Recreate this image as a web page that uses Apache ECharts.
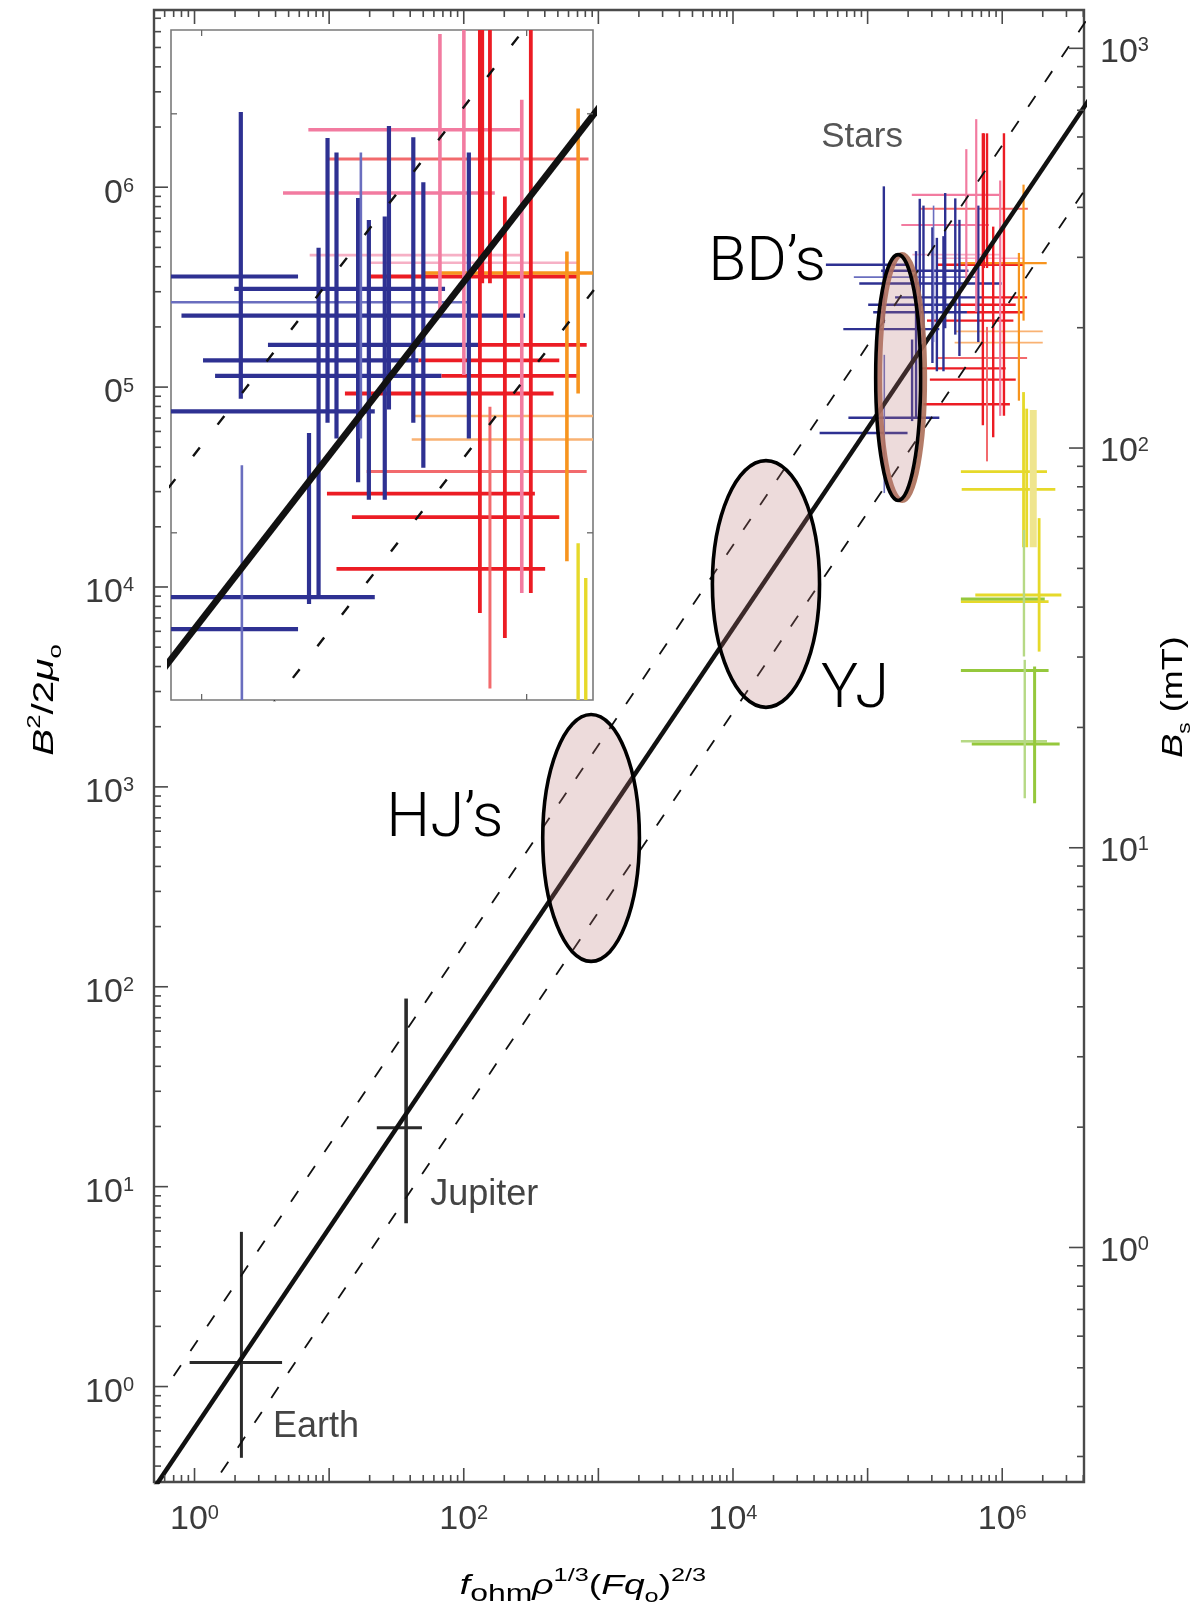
<!DOCTYPE html>
<html>
<head>
<meta charset="utf-8">
<script src="https://cdn.jsdelivr.net/npm/echarts@6/dist/echarts.min.js"></script>
<style>
  html, body { margin: 0; padding: 0; background: #fff; }
  #chart { width: 1198px; height: 1612px; }
</style>
</head>
<body>
<div id="chart"></div>
<script>
// ---------------------------------------------------------------------------
// Magnetic energy density B^2/2mu0 against the heat-flux scaling parameter
// f_ohm rho^(1/3) (F q0)^(2/3), with a magnified view of the stellar points.
// ---------------------------------------------------------------------------

// Axis ranges (main panel, right-hand B_s axis, magnified panel)
const X_RANGE = [0.5, 4.05e6];
const Y_RANGE = [0.333, 7.7e6];
const BS_RANGE = [0.259, 1247];
const INSET_X_RANGE = [8.05e4, 1.6e6];
const INSET_Y_RANGE = [3.99e4, 1.585e6];

// Tick labels: [value, mantissa text, exponent text]
const xTickLabels = [[1, '10', '0'], [1e2, '10', '2'], [1e4, '10', '4'], [1e6, '10', '6']];
const yTickLabels = [[1, '10', '0'], [10, '10', '1'], [1e2, '10', '2'], [1e3, '10', '3'],
                     [1e4, '10', '4'], [1e5, '0', '5'], [1e6, '0', '6']];
const bsTickLabels = [[1, '10', '0'], [10, '10', '1'], [1e2, '10', '2'], [1e3, '10', '3']];

// Best-fit scaling law and its scatter band: two end points each
const fitLine  = [[0.5, 0.31], [5e6, 3.1e6]];
const fitUpper = [[0.7, 1.13], [5e6, 8.1e6]];
const fitLower = [[0.5, 0.118], [5e6, 1.18e6]];

// Planets: [name, x, xLow, xHigh, y, yLow, yHigh]
const planets = [
  ['Earth',   2.23, 0.92, 4.47, 1.32, 0.44, 5.94],
  ['Jupiter', 37.3, 22.6, 48.9, 19.7, 6.56, 87.3]
];

// Stars, x-uncertainty bars: [y, xLow, xHigh, colour]
const starXErr = [
  [9.16e5, 2.13e5, 9.53e5, 'pink'],
  [7.80e5, 2.45e5, 1.55e6, 'salmon'],
  [6.47e5, 1.78e5, 7.98e5, 'pink'],
  [4.60e5, 2.15e5, 9.66e5, 'lightpink'],
  [4.41e5, 3.26e5, 1.44e6, 'lightpink'],
  [4.09e5, 4.9e4, 1.98e5, 'blue'],
  [4.09e5, 3.30e5, 1.43e6, 'red'],
  [4.17e5, 4.86e5, 2.14e6, 'orange'],
  [3.82e5, 1.26e5, 5.61e5, 'blue'],
  [3.55e5, 7.9e4, 6.61e5, 'lightblue'],
  [3.30e5, 8.67e4, 9.89e5, 'blue'],
  [2.81e5, 1.60e5, 7.18e5, 'blue'],
  [2.81e5, 7.18e5, 1.53e6, 'red'],
  [2.58e5, 1.01e5, 4.65e5, 'blue'],
  [2.58e5, 4.65e5, 1.26e6, 'red'],
  [2.37e5, 1.10e5, 5.47e5, 'blue'],
  [2.37e5, 5.47e5, 1.43e6, 'red'],
  [2.15e5, 2.76e5, 1.21e6, 'red'],
  [1.95e5, 6.6e4, 3.41e5, 'blue'],
  [1.90e5, 4.43e5, 2.0e6, 'lightorange'],
  [1.67e5, 4.43e5, 2.0e6, 'lightorange'],
  [1.40e5, 3.22e5, 1.53e6, 'salmon'],
  [1.24e5, 2.43e5, 1.06e6, 'red'],
  [1.09e5, 2.90e5, 1.26e6, 'red'],
  [8.20e4, 2.60e5, 1.14e6, 'red'],
  [7.02e4, 7.2e4, 3.41e5, 'blue'],
  [5.89e4, 4.4e4, 1.98e5, 'blue'],
  [3.78e4, 4.93e5, 2.15e6, 'yellow'],
  [3.08e4, 5.0e5, 2.48e6, 'yellow'],
  [9.12e3, 6.31e5, 2.75e6, 'yellow'],
  [8.45e3, 4.93e5, 2.21e6, 'yellow'],
  [8.71e3, 4.93e5, 2.07e6, 'green'],
  [3.82e3, 4.93e5, 2.21e6, 'green'],
  [1.69e3, 4.93e5, 2.15e6, 'lightgreen'],
  [1.64e3, 5.94e5, 2.67e6, 'green']
];

// Stars, y-uncertainty bars: [x, yLow, yHigh, colour]
const starYErr = [
  [1.32e5, 2.09e5, 1.01e6, 'blue'],
  [1.33e5, 2.95e4, 1.45e5, 'lightblue'],
  [2.29e5, 7.08e4, 4.79e5, 'blue'],
  [2.14e5, 6.76e4, 1.73e5, 'blue'],
  [2.44e5, 1.83e5, 8.75e5, 'blue'],
  [2.60e5, 1.68e5, 8.09e5, 'blue'],
  [3.03e5, 1.32e5, 6.30e5, 'blue'],
  [3.09e5, 1.68e5, 8.09e5, 'lightblue'],
  [3.27e5, 1.20e5, 5.58e5, 'blue'],
  [3.66e5, 1.20e5, 5.69e5, 'blue'],
  [3.77e5, 1.97e5, 9.35e5, 'blue'],
  [4.48e5, 1.83e5, 8.79e5, 'blue'],
  [4.81e5, 1.43e5, 6.87e5, 'blue'],
  [6.64e5, 1.68e5, 8.09e5, 'blue'],
  [5.41e5, 3.34e5, 1.55e6, 'pink'],
  [6.41e5, 2.38e5, 2.19e6, 'pink'],
  [9.66e5, 7.18e4, 1.08e6, 'pink'],
  [7.18e5, 6.44e4, 1.86e6, 'red'],
  [7.30e5, 3.94e5, 1.86e6, 'red'],
  [7.71e5, 4.25e4, 2.00e5, 'salmon'],
  [7.71e5, 3.94e5, 1.86e6, 'red'],
  [8.57e5, 5.61e4, 6.35e5, 'red'],
  [1.03e6, 7.18e4, 1.86e6, 'red'],
  [1.44e6, 2.15e5, 1.03e6, 'orange'],
  [1.33e6, 8.55e4, 4.69e5, 'orange'],
  [1.44e6, 1.58e4, 9.44e4, 'yellow'],
  [1.52e6, 1.58e4, 7.80e4, 'yellow'],
  [1.70e6, 1.58e4, 7.69e4, 'lightyellow'],
  [1.88e6, 4.75e3, 2.21e4, 'yellow'],
  [1.45e6, 4.49e3, 1.93e4, 'lightgreen'],
  [1.47e6, 877, 4.32e3, 'lightgreen'],
  [1.74e6, 828, 4.0e3, 'green']
];

// Object classes outlined on the scaling law: [key, xLow, xHigh, yLow, yHigh]
const regions = [
  ['HJ', 386, 2018, 134, 2301],
  ['YJ', 7030, 43950, 2500, 42850],
  ['BD', 1.148e5, 2.477e5, 2.71e4, 4.60e5]
];

// Text annotations: [text, x, y]
const planetLabels = [['Jupiter', 56.4, 9.1], ['Earth', 3.83, 0.63]];
const starLabel = [['Stars', 9.1e4, 1.77e6]];
const classLabels = [['BD\u2019s', 1.79e4, 4.1e5], ['YJ', 8.07e4, 3.0e3], ['HJ\u2019s', 72.3, 680]];

// Axis titles
const xTitle = '{i|f}{sub|ohm}{i|\u03c1}{sup|1/3}{n|(}{i|Fq}{sub2|o}{n|)}{sup|2/3}';
const yTitle = '{i|B}{sup|2}{n|/2}{i|\u03bc}{sub|o}';
const bsTitle = '{i|B}{sub|s}{n| (mT)}';

// ---------------------------------------------------------------------------
const FONT = '"Liberation Sans", Arial, Helvetica, sans-serif';
const LIGHT_FONT = 'Roboto, "Liberation Sans", sans-serif';
const AXIS_GREY = '#4a4a4a';
const TEXT_GREY = '#333';

const palette = {
  blue: '#2e3192', lightblue: '#6a6ebf',
  pink: '#f27ba0', lightpink: '#f6b0c5',
  salmon: '#f26a6d', red: '#ec1c24',
  orange: '#f7941e', lightorange: '#f9b273',
  yellow: '#e6d92a', lightyellow: '#efe58e',
  green: '#95c83c', lightgreen: '#b6d985'
};
const mainWidth = {
  blue: 2.4, lightblue: 1.6, pink: 2.2, lightpink: 1.6, salmon: 2, red: 2.4,
  orange: 2.2, lightorange: 1.8, yellow: 2.8, lightyellow: 7, green: 3, lightgreen: 2.4
};
const insetWidth = {
  blue: 4.2, lightblue: 2.6, pink: 3.6, lightpink: 2.6, salmon: 3, red: 3.8,
  orange: 3.6, lightorange: 2.6, yellow: 3.4, lightyellow: 5, green: 3.4, lightgreen: 2.6
};

function decadeTicks(range) {
  const out = [];
  const d0 = Math.floor(Math.log10(range[0])), d1 = Math.ceil(Math.log10(range[1]));
  for (let d = d0; d <= d1; d++) {
    for (let k = 1; k <= 9; k++) {
      const v = k * Math.pow(10, d);
      if (v >= range[0] * 0.9999 && v <= range[1] * 1.0001) out.push({ v: v, major: k === 1 });
    }
  }
  return out;
}

function seg(x1, y1, x2, y2, color, w) {
  return { type: 'line', shape: { x1: x1, y1: y1, x2: x2, y2: y2 },
           style: { stroke: color, lineWidth: w } };
}

function tickFormatter(table) {
  return function (v) {
    for (let i = 0; i < table.length; i++) {
      if (Math.abs(Math.log10(v) - Math.log10(table[i][0])) < 1e-6) {
        return '{b|' + table[i][1] + '}{s|' + table[i][2] + '}';
      }
    }
    return '';
  };
}

const tickRich = {
  b: { fontSize: 34, lineHeight: 34, fontFamily: FONT, color: '#3a3a3a', verticalAlign: 'bottom' },
  s: { fontSize: 20, lineHeight: 20, fontFamily: FONT, color: '#3a3a3a', verticalAlign: 'top' }
};

function titleRich(base, sub, sup, sub2) {
  return {
    i: { fontSize: base, fontStyle: 'italic', lineHeight: 40, fontFamily: FONT, color: TEXT_GREY },
    n: { fontSize: base, lineHeight: 40, fontFamily: FONT, color: TEXT_GREY },
    sub: { fontSize: sub, lineHeight: 22, verticalAlign: 'bottom', fontFamily: FONT, color: TEXT_GREY },
    sub2: { fontSize: sub2 || sub, lineHeight: 20, verticalAlign: 'bottom', fontFamily: FONT, color: TEXT_GREY },
    sup: { fontSize: sup, lineHeight: 20, verticalAlign: 'top', fontFamily: FONT, color: TEXT_GREY }
  };
}

const mainXTicks = decadeTicks(X_RANGE);
const mainYTicks = decadeTicks(Y_RANGE);
const bsTicks = decadeTicks(BS_RANGE);
const insetXTicks = decadeTicks(INSET_X_RANGE).filter(t => t.major);
const insetYTicks = decadeTicks(INSET_Y_RANGE).filter(t => t.major);

function xBarSeries(grid, widths, z) {
  return {
    type: 'custom', xAxisIndex: grid, yAxisIndex: grid === 0 ? 0 : 2,
    clip: true, silent: true, z: z,
    data: starXErr.map(b => [b[1], b[0], b[2]]),
    renderItem: function (params, api) {
      const b = starXErr[params.dataIndex];
      const p1 = api.coord([b[1], b[0]]);
      const p2 = api.coord([b[2], b[0]]);
      return seg(p1[0], p1[1], p2[0], p2[1], palette[b[3]], widths[b[3]]);
    }
  };
}
function yBarSeries(grid, widths, z) {
  return {
    type: 'custom', xAxisIndex: grid, yAxisIndex: grid === 0 ? 0 : 2,
    clip: true, silent: true, z: z,
    data: starYErr.map(b => [b[0], b[1], b[2]]),
    renderItem: function (params, api) {
      const b = starYErr[params.dataIndex];
      const p1 = api.coord([b[0], b[1]]);
      const p2 = api.coord([b[0], b[2]]);
      return seg(p1[0], p1[1], p2[0], p2[1], palette[b[3]], widths[b[3]]);
    }
  };
}
function fitSeries(grid, data, width, dash, z) {
  return {
    type: 'line', xAxisIndex: grid, yAxisIndex: grid === 0 ? 0 : 2,
    data: data, symbol: 'none', clip: true, silent: true, z: z,
    lineStyle: { color: '#111', width: width, type: dash || 'solid' }
  };
}
function textSeries(items, style, z) {
  return {
    type: 'custom', xAxisIndex: 0, yAxisIndex: 0, silent: true, z: z,
    data: items.map(t => [t[1], t[2]]),
    renderItem: function (params, api) {
      const t = items[params.dataIndex];
      const p = api.coord([t[1], t[2]]);
      return { type: 'text', x: p[0], y: p[1],
               style: Object.assign({ text: t[0] }, style) };
    }
  };
}

const option = {
  animation: false,
  backgroundColor: '#fff',
  grid: [
    { left: 154, top: 10, width: 930, height: 1472, show: true, backgroundColor: '#fff',
      borderColor: AXIS_GREY, borderWidth: 2.4, containLabel: false, outerBoundsMode: 'none' },
    { left: 171, top: 30, width: 422, height: 670, show: true, backgroundColor: '#fff',
      borderColor: '#7a7a7a', borderWidth: 1.6, containLabel: false, outerBoundsMode: 'none' }
  ],
  // axis titles, stretched along the reading direction like the printed figure
  graphic: [
    { type: 'text', x: 583, y: 1586, scaleX: 1.33, silent: true,
      style: { text: xTitle, rich: titleRich(28, 24, 19, 19), align: 'center', verticalAlign: 'middle' } },
    { type: 'text', x: 45, y: 700, rotation: Math.PI / 2, scaleX: 1.35, silent: true,
      style: { text: yTitle, rich: titleRich(30, 19, 19), align: 'center', verticalAlign: 'middle' } },
    { type: 'text', x: 1174, y: 697, rotation: Math.PI / 2, scaleX: 1.2, silent: true,
      style: { text: bsTitle, rich: titleRich(30, 19, 19), align: 'center', verticalAlign: 'middle' } }
  ],
  xAxis: [
    {
      type: 'log', gridIndex: 0, min: X_RANGE[0], max: X_RANGE[1],
      axisLine: { show: false }, axisTick: { show: false }, splitLine: { show: false },
      axisLabel: { formatter: tickFormatter(xTickLabels), rich: tickRich, margin: 21, hideOverlap: false }
    },
    {
      type: 'log', gridIndex: 1, min: INSET_X_RANGE[0], max: INSET_X_RANGE[1],
      axisLine: { show: false }, axisTick: { show: false }, splitLine: { show: false },
      axisLabel: { show: false }
    }
  ],
  yAxis: [
    {
      type: 'log', gridIndex: 0, min: Y_RANGE[0], max: Y_RANGE[1], position: 'left',
      axisLine: { show: false }, axisTick: { show: false }, splitLine: { show: false },
      axisLabel: { formatter: tickFormatter(yTickLabels), rich: tickRich, margin: 20,
                   padding: [12, 0, 0, 0], hideOverlap: false }
    },
    {
      type: 'log', gridIndex: 0, min: BS_RANGE[0], max: BS_RANGE[1], position: 'right',
      axisLine: { show: false }, axisTick: { show: false }, splitLine: { show: false },
      axisLabel: { formatter: tickFormatter(bsTickLabels), rich: tickRich, margin: 16,
                   padding: [8, 0, 0, 0], hideOverlap: false }
    },
    {
      type: 'log', gridIndex: 1, min: INSET_Y_RANGE[0], max: INSET_Y_RANGE[1],
      axisLine: { show: false }, axisTick: { show: false }, splitLine: { show: false },
      axisLabel: { show: false }
    }
  ],
  series: [
    // main panel ticks (bottom/top x, left y)
    {
      type: 'custom', xAxisIndex: 0, yAxisIndex: 0, silent: true, z: 20, data: [[1, 1]],
      renderItem: function (params, api) {
        const cs = params.coordSys;
        const L = cs.x, T = cs.y, B = cs.y + cs.height;
        const kids = [];
        mainXTicks.forEach(t => {
          const px = api.coord([t.v, 1])[0];
          const len = t.major ? 14 : 7;
          kids.push(seg(px, B, px, B - len, AXIS_GREY, 1.6));
          kids.push(seg(px, T, px, T + len, AXIS_GREY, 1.6));
        });
        mainYTicks.forEach(t => {
          const py = api.coord([1, t.v])[1];
          const len = t.major ? 14 : 7;
          kids.push(seg(L, py, L + len, py, AXIS_GREY, 1.6));
        });
        return { type: 'group', children: kids };
      }
    },
    // B_s ticks on the right edge
    {
      type: 'custom', xAxisIndex: 0, yAxisIndex: 1, silent: true, z: 20, data: [[1, 1]],
      renderItem: function (params, api) {
        const cs = params.coordSys;
        const R = cs.x + cs.width;
        const kids = bsTicks.map(t => {
          const py = api.coord([1, t.v])[1];
          const len = t.major ? 15 : 7;
          return seg(R, py, R - len, py, AXIS_GREY, 1.6);
        });
        return { type: 'group', children: kids };
      }
    },
    // magnified-panel ticks
    {
      type: 'custom', xAxisIndex: 1, yAxisIndex: 2, silent: true, z: 20, data: [[1e5, 1e5]],
      renderItem: function (params, api) {
        const cs = params.coordSys;
        const L = cs.x, R = cs.x + cs.width, T = cs.y, B = cs.y + cs.height;
        const kids = [];
        insetXTicks.forEach(t => {
          const px = api.coord([t.v, 1e5])[0];
          kids.push(seg(px, B, px, B - 6, '#666', 1.3), seg(px, T, px, T + 6, '#666', 1.3));
        });
        insetYTicks.forEach(t => {
          const py = api.coord([1e5, t.v])[1];
          kids.push(seg(L, py, L + 6, py, '#666', 1.3), seg(R, py, R - 6, py, '#666', 1.3));
        });
        return { type: 'group', children: kids };
      }
    },

    // stellar error bars, main panel
    xBarSeries(0, mainWidth, 3),
    yBarSeries(0, mainWidth, 4),
    // stellar error bars, magnified panel
    xBarSeries(1, insetWidth, 3),
    yBarSeries(1, insetWidth, 4),

    // planets
    {
      type: 'custom', xAxisIndex: 0, yAxisIndex: 0, silent: true, z: 4,
      data: planets.map(p => [p[1], p[4]]),
      renderItem: function (params, api) {
        const p = planets[params.dataIndex];
        const h1 = api.coord([p[2], p[4]]), h2 = api.coord([p[3], p[4]]);
        const v1 = api.coord([p[1], p[5]]), v2 = api.coord([p[1], p[6]]);
        return { type: 'group', children: [
          seg(h1[0], h1[1], h2[0], h2[1], '#2a2a2a', 3),
          seg(v1[0], v1[1], v2[0], v2[1], '#2a2a2a', p[0] === 'Jupiter' ? 3.6 : 3)
        ] };
      }
    },

    // scaling law and scatter band
    fitSeries(0, fitLine, 4.5, null, 6),
    fitSeries(0, fitUpper, 1.8, [13, 17], 6),
    fitSeries(0, fitLower, 1.8, [13, 17], 6),
    fitSeries(1, fitLine, 6.5, null, 6),
    fitSeries(1, fitUpper, 2.4, [11, 29], 6),
    fitSeries(1, fitLower, 2.4, [11, 29], 6),

    // object-class outlines
    {
      type: 'custom', xAxisIndex: 0, yAxisIndex: 0, silent: true, z: 8,
      data: regions.map(r => [r[1], r[3]]),
      renderItem: function (params, api) {
        const r = regions[params.dataIndex];
        const p0 = api.coord([r[1], r[3]]);
        const p1 = api.coord([r[2], r[4]]);
        const shape = { cx: (p0[0] + p1[0]) / 2, cy: (p0[1] + p1[1]) / 2,
                        rx: Math.abs(p1[0] - p0[0]) / 2, ry: Math.abs(p0[1] - p1[1]) / 2 };
        const outline = { type: 'ellipse', shape: shape,
          style: { fill: 'rgba(185,115,115,0.26)', stroke: '#000', lineWidth: 3.6 } };
        if (r[0] !== 'BD') return outline;
        // brown rim along the right-hand side of the brown-dwarf outline
        return { type: 'group', children: [
          { type: 'ellipse', x: 4, shape: shape,
            style: { fill: 'none', stroke: 'rgba(172,110,88,0.9)', lineWidth: 5 } },
          outline
        ] };
      }
    },

    // annotations
    textSeries(starLabel, { fill: '#555', fontSize: 35, fontFamily: FONT,
                            align: 'center', verticalAlign: 'middle' }, 10),
    textSeries(planetLabels, { fill: '#444', fontSize: 36, fontFamily: FONT,
                               align: 'left', verticalAlign: 'middle' }, 10),
    textSeries(classLabels, { fill: '#000', fontSize: 62, fontFamily: LIGHT_FONT, fontWeight: 300,
                              align: 'center', verticalAlign: 'middle' }, 10)
  ]
};

const chart = echarts.init(document.getElementById('chart'), null, { renderer: 'canvas' });
chart.setOption(option);
</script>
</body>
</html>
